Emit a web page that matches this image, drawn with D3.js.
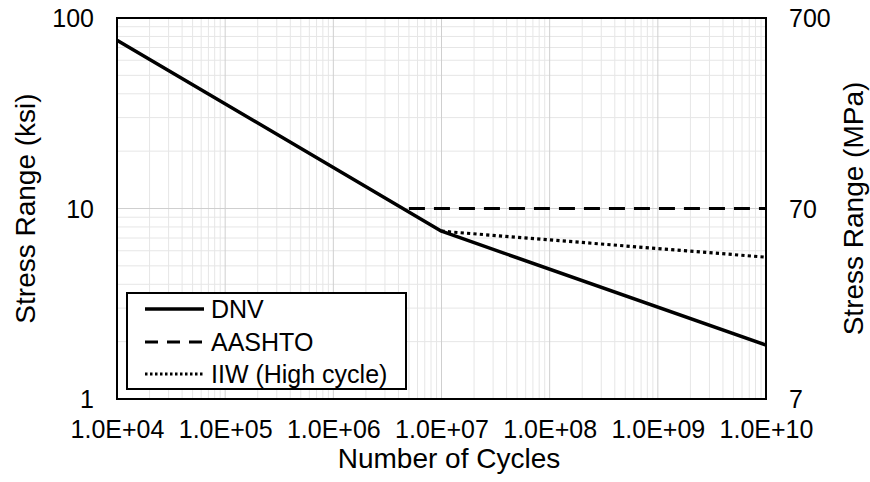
<!DOCTYPE html>
<html>
<head>
<meta charset="utf-8">
<script src="https://cdn.jsdelivr.net/npm/d3@7"></script>
<style>
  html, body { margin: 0; padding: 0; background: #fff; }
  text { font-family: "Liberation Sans", Arial, sans-serif; fill: #000; }
</style>
</head>
<body>
<svg id="chart" width="870" height="482"></svg>
<script>
// ---- data ----
const xTicks = [1e4, 1e5, 1e6, 1e7, 1e8, 1e9, 1e10];
const xTickLabels = ["1.0E+04", "1.0E+05", "1.0E+06", "1.0E+07", "1.0E+08", "1.0E+09", "1.0E+10"];
const ksiTicks = [1, 10, 100];
const mpaTicks = [7, 70, 700];

const dnvCycles = [1e4, 1e7, 1e10];
const dnvStress = [76.5, 7.6, 1.92];
const aashtoCycles = [5e6, 1e10];
const aashtoStress = [10, 10];
const iiwCycles = [1e7, 1e10];
const iiwStress = [7.6, 5.55];

const seriesNames = ["DNV", "AASHTO", "IIW (High cycle)"];

// ---- layout ----
const svg = d3.select("#chart");
const L = 117, R = 766, T = 18, B = 399;
const FONT = "'Liberation Sans', Arial, sans-serif";

const x = d3.scaleLog().domain([1e4, 1e10]).range([L, R]);
const yK = d3.scaleLog().domain([1, 100]).range([B, T]);
const yM = d3.scaleLog().domain([7, 700]).range([B, T]);

svg.append("rect").attr("width", 870).attr("height", 482).attr("fill", "#fff");

// grid
const minorX = [], minorY = [];
for (let e = 4; e < 10; e++) for (let m = 2; m <= 9; m++) minorX.push(m * Math.pow(10, e));
for (let e = 0; e < 2; e++) for (let m = 2; m <= 9; m++) minorY.push(m * Math.pow(10, e));

const g = svg.append("g");
g.selectAll(".mx").data(minorX).enter().append("line")
  .attr("x1", d => x(d)).attr("x2", d => x(d)).attr("y1", T).attr("y2", B)
  .attr("stroke", "#e6e6e6").attr("stroke-width", 1);
g.selectAll(".my").data(minorY).enter().append("line")
  .attr("y1", d => yK(d)).attr("y2", d => yK(d)).attr("x1", L).attr("x2", R)
  .attr("stroke", "#e6e6e6").attr("stroke-width", 1);
g.selectAll(".Mx").data(xTicks).enter().append("line")
  .attr("x1", d => x(d)).attr("x2", d => x(d)).attr("y1", T).attr("y2", B)
  .attr("stroke", "#cfcfcf").attr("stroke-width", 1);
g.selectAll(".My").data(ksiTicks).enter().append("line")
  .attr("y1", d => yK(d)).attr("y2", d => yK(d)).attr("x1", L).attr("x2", R)
  .attr("stroke", "#cfcfcf").attr("stroke-width", 1);

// series
const line = d3.line().x(d => x(d[0])).y(d => yK(d[1]));
const zip = (a, b) => a.map((v, i) => [v, b[i]]);

svg.append("path").datum(zip(aashtoCycles, aashtoStress)).attr("d", line)
  .attr("fill", "none").attr("stroke", "#000").attr("stroke-width", 3.2)
  .attr("stroke-dasharray", "16,9");
svg.append("path").datum(zip(iiwCycles, iiwStress)).attr("d", line)
  .attr("fill", "none").attr("stroke", "#000").attr("stroke-width", 3.2)
  .attr("stroke-dasharray", "3.2,3.2");
svg.append("path").datum(zip(dnvCycles, dnvStress)).attr("d", line)
  .attr("fill", "none").attr("stroke", "#000").attr("stroke-width", 3.5)
  .attr("stroke-linejoin", "round");

// plot border
svg.append("rect").attr("x", L).attr("y", T).attr("width", R - L).attr("height", B - T)
  .attr("fill", "none").attr("stroke", "#000").attr("stroke-width", 2);

// axes labels
const xAxis = d3.axisBottom(x).tickValues(xTicks).tickFormat((d, i) => xTickLabels[i]).tickSize(0);
const ax = svg.append("g").attr("transform", `translate(0,${B})`).call(xAxis);
ax.select(".domain").remove();
ax.selectAll("text").attr("y", 0).attr("dy", 0).attr("transform", "translate(0,39)")
  .style("font-size", "25px").style("font-family", FONT).attr("fill", "#000");

const yAxisL = d3.axisLeft(yK).tickValues(ksiTicks).tickFormat(d3.format("d")).tickSize(0);
const al = svg.append("g").attr("transform", `translate(${L},0)`).call(yAxisL);
al.select(".domain").remove();
al.selectAll("text").attr("x", -23).attr("dy", "0.35em")
  .style("font-size", "25px").style("font-family", FONT).attr("fill", "#000");

const yAxisR = d3.axisRight(yM).tickValues(mpaTicks).tickFormat(d3.format("d")).tickSize(0);
const ar = svg.append("g").attr("transform", `translate(${R},0)`).call(yAxisR);
ar.select(".domain").remove();
ar.selectAll("text").attr("x", 23).attr("dy", "0.35em")
  .style("font-size", "25px").style("font-family", FONT).attr("fill", "#000");

// titles
svg.append("text").attr("x", 449).attr("y", 468).attr("text-anchor", "middle")
  .style("font-size", "28px").text("Number of Cycles");
svg.append("text").attr("transform", `translate(35,${(T + B) / 2}) rotate(-90)`)
  .attr("text-anchor", "middle").style("font-size", "28px").text("Stress Range (ksi)");
svg.append("text").attr("transform", `translate(863,${(T + B) / 2}) rotate(-90)`)
  .attr("text-anchor", "middle").style("font-size", "28px").text("Stress Range (MPa)");

// legend
const lg = svg.append("g");
lg.append("rect").attr("x", 127).attr("y", 293).attr("width", 279).attr("height", 96)
  .attr("fill", "#fff").attr("stroke", "#000").attr("stroke-width", 2);
const styles = [
  { dash: null, w: 3.5 },
  { dash: "13,9", w: 3.2 },
  { dash: "2.5,2.5", w: 2.8 }
];
const rowsY = [309, 342, 374];
seriesNames.forEach((name, i) => {
  const ln = lg.append("line").attr("x1", 145).attr("x2", 204)
    .attr("y1", rowsY[i]).attr("y2", rowsY[i])
    .attr("stroke", "#000").attr("stroke-width", styles[i].w);
  if (styles[i].dash) ln.attr("stroke-dasharray", styles[i].dash);
  lg.append("text").attr("x", 211).attr("y", rowsY[i]).attr("dy", "0.35em")
    .style("font-size", "25px").text(name);
});
</script>
</body>
</html>
